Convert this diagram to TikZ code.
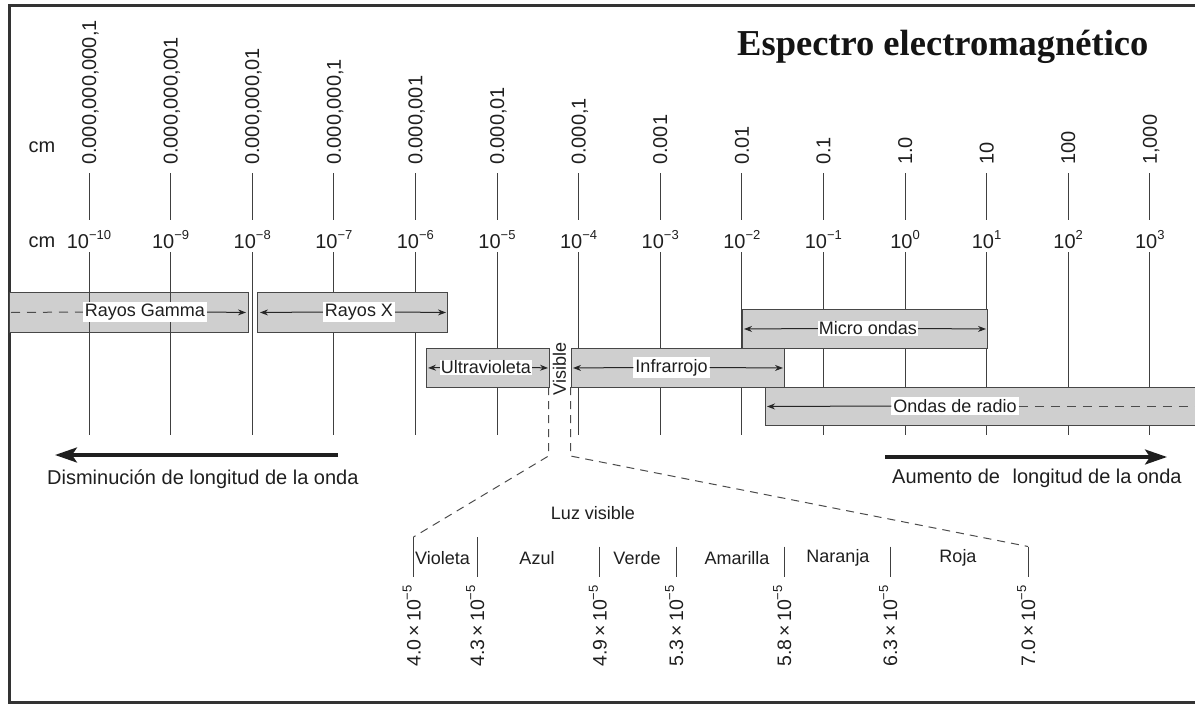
\documentclass[tikz,border=0pt]{standalone}
\usepackage{fontspec}
\setmainfont{Liberation Sans}
\newfontfamily\titlefont{Liberation Serif}
\usetikzlibrary{arrows.meta,calc}
\newcommand\fsz[1]{\fontsize{#1}{#1}\selectfont}
\newcommand\ex[1]{\raisebox{0.45em}{\fsz{13}#1}}
\begin{document}
\begin{tikzpicture}[x=1pt,y=-1pt,
  ink/.style={draw=black!75, line width=1pt},
  band/.style={draw=black!72, fill=black!19, line width=1pt, rectangle, inner sep=0pt, anchor=north west},
  blabel/.style={fill=white, inner sep=2pt, font=\fsz{18}, text=black!88},
  tiparrow/.style={draw=black!85, line width=1pt, -{Stealth[length=8pt,width=6pt]}},
  dashline/.style={draw=black!70, line width=1pt, dash pattern=on 9pt off 7pt},
  bigarrow/.style={draw=black!88, line width=3.2pt, -{Stealth[length=22pt,width=15pt,inset=5pt]}},
  txt/.style={font=\fsz{20}, text=black!88, inner sep=0pt},
  ctxt/.style={font=\fsz{18}, text=black!88, inner sep=0pt}
]
\useasboundingbox (0,0) rectangle (1195,704);
\fill[white] (0,0) rectangle (1195,704);
% frame
\draw[line width=3pt, black!80] (1197,5) -- (9,5) -- (9,702) -- (1197,702);

% title
\node[anchor=base west, inner sep=0pt, text=black!92] (title) at (737,55) {\titlefont\bfseries\fsz{36.5}Espectro electromagnético};

% cm labels
\node[txt] (cmtop) at (42,147) {cm};
\node[txt] (cmbot) at (42,242) {cm};

% gamma band drawn beneath the tick lines
\node[band, minimum width=239pt, minimum height=40pt] (gam) at (9,292) {};

% scale
\foreach \i/\t/\e in {0/{0.000,000,000,1}/{−10},1/{0.000,000,001}/{−9},2/{0.000,000,01}/{−8},3/{0.000,000,1}/{−7},4/{0.000,001}/{−6},5/{0.000,01}/{−5},6/{0.000,1}/{−4},7/{0.001}/{−3},8/{0.01}/{−2},9/{0.1}/{−1},10/{1.0}/{0},11/{10}/{1},12/{100}/{2},13/{1,000}/{3}}{
  \pgfmathsetmacro\xx{89+81.6*\i}
  \node[txt, rotate=90, anchor=base west] (t\i) at (\xx+7,165) {\t};
  \node[txt, anchor=base] (b\i) at (\xx,248) {10\ex{\e}};
  \coordinate (ua\i) at (\xx,173);
  \coordinate (ub\i) at (\xx,220);
  \coordinate (la\i) at (\xx,252);
  \coordinate (lb\i) at (\xx,435);
  \draw[ink] (ua\i) -- (ub\i);
  \draw[ink] (la\i) -- (lb\i);
}

% bands
\node[band, minimum width=190pt, minimum height=40pt] (xr) at (257,292) {};
\node[band, minimum width=123pt, minimum height=39pt] (uv) at (426,348) {};
\node[band, minimum width=213pt, minimum height=39pt] (ir) at (571,348) {};
\node[band, minimum width=245pt, minimum height=39pt] (mw) at (742,309) {};
\node[band, minimum width=440pt, minimum height=38pt] (rd) at (765,387) {};

% band labels
\node[blabel] (gl) at (145,312) {Rayos Gamma};
\node[blabel] (xl) at (359,312) {Rayos X};
\node[blabel, inner sep=1pt] (ul) at (486,367.5) {Ultravioleta};
\node[blabel] (il) at (671.5,367.5) {Infrarrojo};
\node[blabel, inner sep=1pt] (ml) at (868,328.5) {Micro ondas};
\node[blabel] (rl) at (955,406) {Ondas de radio};
\node[ctxt, rotate=90] (vis) at (559.5,369) {Visible};

% band arrows
\draw[dashline] ($(gam.west)+(2,0)$) -- (gl.west);
\draw[tiparrow] (gl.east) -- ($(gam.east)+(-3,0)$);
\draw[tiparrow] (xl.west) -- ($(xr.west)+(3,0)$);
\draw[tiparrow] (xl.east) -- ($(xr.east)+(-2,0)$);
\draw[tiparrow] (ul.west) -- ($(uv.west)+(2,0)$);
\draw[tiparrow] (ul.east) -- ($(uv.east)+(-2,0)$);
\draw[tiparrow] (il.west) -- ($(ir.west)+(2,0)$);
\draw[tiparrow] (il.east) -- ($(ir.east)+(-2,0)$);
\draw[tiparrow] (ml.west) -- ($(mw.west)+(2,0)$);
\draw[tiparrow] (ml.east) -- ($(mw.east)+(-2,0)$);
\draw[tiparrow] (rl.west) -- ($(rd.west)+(2,0)$);
\coordinate (rdend) at (1195,406);
\draw[dashline] (rl.east) -- (rdend);

% big arrows
\coordinate (la0s) at (338,455);
\coordinate (la0e) at (55,455);
\draw[bigarrow] (la0s) -- (la0e);
\node[txt, anchor=west] (dism) at (47,479) {Disminución de longitud de la onda};
\coordinate (ra0s) at (885,457);
\coordinate (ra0e) at (1167,457);
\draw[bigarrow] (ra0s) -- (ra0e);
\node[txt, anchor=west] (aum) at (892,478) {Aumento de\hspace{0.35em} longitud de la onda};

% visible light zoom
\node[ctxt] (luz) at (593,513) {Luz visible};
\foreach \j/\x/\top/\v in {0/413.5/537/{4.0},1/477/537/{4.3},2/599.6/546.5/{4.9},3/676/546.5/{5.3},4/784/546.5/{5.8},5/890/546.5/{6.3},6/1028/546.5/{7.0}}{
  \coordinate (st\j) at (\x,\top);
  \coordinate (sb\j) at (\x,577);
  \draw[ink] (st\j) -- (sb\j);
  \node[ctxt, font=\fsz{19.5}, rotate=90, anchor=base east] (n\j) at (\x+7,585) {\v\,×\,10\ex{−5}};
}
\node[ctxt] (c1) at (442.5,558) {Violeta};
\node[ctxt] (c2) at (537,558) {Azul};
\node[ctxt] (c3) at (637,558) {Verde};
\node[ctxt] (c4) at (737,558) {Amarilla};
\node[ctxt] (c5) at (838,558) {Naranja};
\node[ctxt] (c6) at (958,558) {Roja};

\coordinate (vl1) at (548.5,387);
\coordinate (vl2) at (548.5,456);
\coordinate (vr1) at (570.5,387);
\coordinate (vr2) at (570.5,456);
\draw[dashline, dash pattern=on 8pt off 6pt] (vl1) -- (vl2) -- (st0);
\draw[dashline, dash pattern=on 8pt off 6pt] (vr1) -- (vr2) -- (st6);
\end{tikzpicture}
\end{document}
